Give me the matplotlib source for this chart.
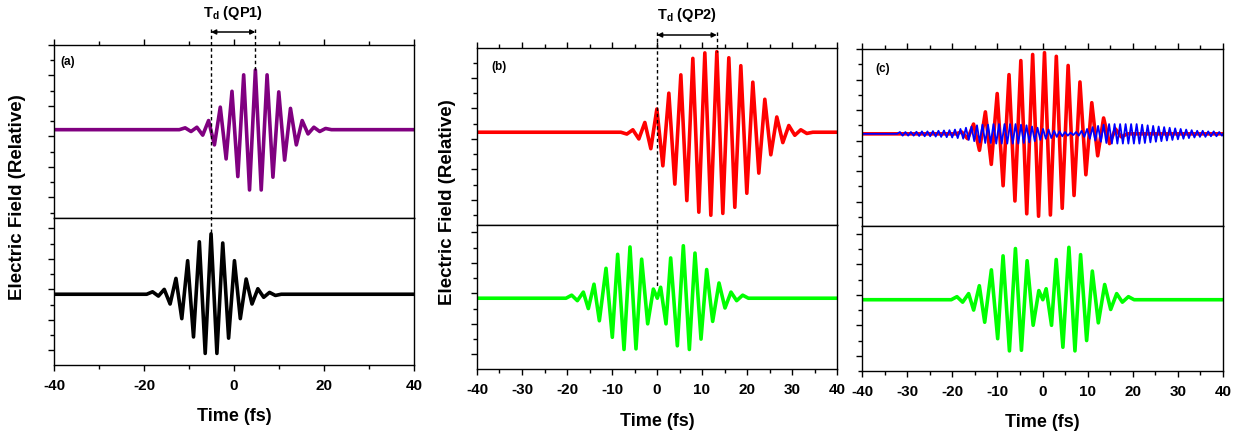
import numpy as np
import matplotlib
matplotlib.use("Agg")
from matplotlib import pyplot as plt
from matplotlib.lines import Line2D
from matplotlib.ticker import MultipleLocator
from matplotlib.transforms import blended_transform_factory

plt.rcParams['font.family'] = ['Liberation Sans', 'DejaVu Sans']
plt.rcParams['font.weight'] = 'bold'
plt.rcParams['axes.unicode_minus'] = False
plt.rcParams['mathtext.fontset'] = 'custom'
plt.rcParams['mathtext.rm'] = 'Liberation Sans:bold'
plt.rcParams['mathtext.it'] = 'Liberation Sans:bold'
plt.rcParams['mathtext.bf'] = 'Liberation Sans:bold'

t_range = (-40, 40)

# field extrema of each pulse: time of first extremum (fs), half period (fs), signed peak values
# (a) QP1 pulse (purple) and reference pulse (black)
qp1_t0, qp1_half = -10.85, 1.3
qp1_peaks = [0.03, -0.03, 0.04, -0.09, 0.15, -0.25, 0.37, -0.48, 0.63, -0.77, 0.90, -0.99, 0.98,
             -0.99, 0.90, -0.78, 0.62, -0.50, 0.35, -0.25, 0.15, -0.07, 0.04, -0.03, 0.02]
ref_t0, ref_half = -18.1, 1.3
ref_peaks = [0.04, -0.03, 0.08, -0.16, 0.26, -0.40, 0.55, -0.70, 0.86, -0.97, 0.99,
             -0.97, 0.84, -0.72, 0.55, -0.40, 0.25, -0.16, 0.09, -0.05, 0.03, -0.02]

# (b) QP2 pulse (red) and double pulse (green, also in c)
qp2_t0, qp2_half = -6.7, 1.333
qp2_peaks = [-0.03, 0.04, -0.11, 0.16, -0.27, 0.38, -0.55, 0.64, -0.85, 0.94, -1.12, 1.21, -1.31,
             1.30, -1.36, 1.32, -1.33, 1.22, -1.23, 1.09, -1.00, 0.82, -0.67, 0.54, -0.37, 0.25,
             -0.17, 0.11, -0.05, 0.04, -0.02]
dbl_times = [-18.96, -17.70, -16.37, -15.26, -14.00, -12.81, -11.33, -9.93, -8.74, -7.33, -6.00,
             -4.67, -3.41, -2.07, -0.81, 0.07, 0.81, 2.00, 3.04, 4.52, 5.85, 7.19, 8.44, 9.78,
             11.04, 12.37, 13.78, 15.11, 16.44, 17.70, 19.04]
dbl_peaks = [0.05, -0.04, 0.10, -0.17, 0.23, -0.37, 0.49, -0.64, 0.72, -0.84, 0.84, -0.83, 0.64,
             -0.42, 0.15, 0.00, 0.18, -0.42, 0.66, -0.78, 0.86, -0.84, 0.74, -0.67, 0.47, -0.38,
             0.25, -0.16, 0.10, -0.04, 0.05]

# (c) compressed pulse (red) and high-frequency residue (blue, amplitude per cycle)
cmp_t0, cmp_half = -17.9, 1.31
cmp_peaks = [0.03, -0.08, 0.16, -0.27, 0.36, -0.50, 0.66, -0.85, 0.97, -1.10, 1.20, -1.31, 1.30,
             -1.35, 1.33, -1.33, 1.27, -1.22, 1.12, -1.01, 0.85, -0.67, 0.51, -0.36, 0.26, -0.16,
             0.08, -0.05]
hf_t0, hf_period = -31.6, 1.22
hf_amp = [0.03, 0.03, 0.03, 0.035, 0.04, 0.04, 0.045, 0.05, 0.055, 0.06, 0.07, 0.08, 0.10, 0.12,
          0.14, 0.15, 0.15, 0.16, 0.16, 0.16, 0.16, 0.16, 0.15, 0.14, 0.12, 0.10, 0.08, 0.07, 0.05,
          0.04, 0.03, 0.02, 0.03, 0.05, 0.08, 0.11, 0.13, 0.15, 0.16, 0.16, 0.16, 0.16, 0.16, 0.16,
          0.15, 0.14, 0.13, 0.12, 0.11, 0.10, 0.09, 0.08, 0.07, 0.06, 0.05, 0.05, 0.04, 0.04, 0.03]


def trace(times, peaks):
    times = np.asarray(times, float)
    peaks = np.asarray(peaks, float)
    step = times[1] - times[0]
    t = np.concatenate([[t_range[0], times[0] - step], times, [times[-1] + step, t_range[1]]])
    e = np.concatenate([[0, 0], peaks, [0, 0]])
    return t, e


def uniform(t0, half, peaks):
    return trace(t0 + half * np.arange(len(peaks)), peaks)


W, H = 1238, 435
fig = plt.figure(figsize=(W / 100, H / 100), dpi=100)


def add_ax(left, top, right, bottom):
    return fig.add_axes([left / W, 1 - bottom / H, (right - left) / W, (bottom - top) / H])


def style(ax, upper, major, minor, ylim):
    ax.set_xlim(*t_range)
    ax.xaxis.set_major_locator(MultipleLocator(major))
    ax.xaxis.set_minor_locator(MultipleLocator(minor))
    off = 0.39 if upper else 0.08
    ax.set_yticks(np.arange(off - 3, 3, 0.5))
    ax.set_yticks(np.arange(off - 2.75, 3, 0.5), minor=True)
    ax.set_ylim(*ylim)
    ax.tick_params(which='both', direction='out', right=False, labelleft=False, width=1)
    ax.tick_params(which='major', length=4.5, pad=5)
    ax.tick_params(which='minor', length=2.8)
    if upper:
        ax.tick_params(axis='x', which='both', top=True, bottom=False, labelbottom=False)
    else:
        ax.tick_params(axis='x', which='both', labelsize=11)
        for lab in ax.get_xticklabels():
            lab.set_fontweight('bold')
    for sp in ax.spines.values():
        sp.set_linewidth(1.0)


a_top = add_ax(54, 46, 414, 219)
a_bot = add_ax(54, 219, 414, 366)
b_top = add_ax(477, 49, 837, 226)
b_bot = add_ax(477, 226, 837, 370)
c_top = add_ax(862, 50, 1223, 227)
c_bot = add_ax(862, 227, 1223, 372)

style(a_top, True, 20, 10, (-1.45, 1.39))
style(a_bot, False, 20, 10, (-1.16, 1.25))
style(b_top, True, 10, 5, (-1.52, 1.38))
style(b_bot, False, 10, 5, (-1.16, 1.20))
style(c_top, True, 10, 5, (-1.51, 1.39))
style(c_bot, False, 10, 5, (-1.17, 1.21))

# traces
lw = 2.6
a_top.plot(*uniform(qp1_t0, qp1_half, qp1_peaks), color='#800080', lw=lw)
a_bot.plot(*uniform(ref_t0, ref_half, ref_peaks), color='black', lw=lw)
b_top.plot(*uniform(qp2_t0, qp2_half, qp2_peaks), color='#ff0000', lw=lw)
b_bot.plot(*trace(dbl_times, dbl_peaks), color='#00ff00', lw=lw)
c_top.plot(*uniform(cmp_t0, cmp_half, cmp_peaks), color='#ff0000', lw=lw)
hf_t = hf_t0 + hf_period / 2 * np.arange(2 * len(hf_amp))
hf_e = np.repeat(hf_amp, 2) * np.tile([1, -1], len(hf_amp))
c_top.plot(*trace(hf_t, hf_e), color='#0000ff', lw=1.3)
c_bot.plot(*trace(dbl_times, dbl_peaks), color='#00ff00', lw=lw)

# panel tags
for ax, tag, x, y in [(a_top, '(a)', 0.019, 0.907), (b_top, '(b)', 0.039, 0.898),
                      (c_top, '(c)', 0.038, 0.895)]:
    ax.text(x, y, tag, transform=ax.transAxes, fontsize=8.5, weight='bold', va='center')

# axis titles
for x, y in [(18, 197), (447, 202)]:
    fig.text(x / W, 1 - y / H, 'Electric Field (Relative)', rotation=90, ha='center',
             va='center', fontsize=13.5, weight='bold')
for ax, y in [(a_bot, 417), (b_bot, 422), (c_bot, 423)]:
    ax.text(0.5, 1 - y / H, 'Time (fs)', transform=blended_transform_factory(ax.transAxes, fig.transFigure),
            ha='center', va='center', fontsize=13, weight='bold')


def peak_of(t0, half, peaks):
    i = int(np.argmax(peaks))
    return t0 + half * i, peaks[i]


def fig_xy(ax, t, v):
    return fig.transFigure.inverted().transform(ax.transData.transform((t, v)))


def delay_marker(ax_top, t1, ax1, v1, t2, ax2, v2, label, y_arrow, y_text):
    ya = 1 - y_arrow / H
    ax_top.annotate('', xy=(t2, ya), xytext=(t1, ya), xycoords=('data', 'figure fraction'),
                    textcoords=('data', 'figure fraction'), annotation_clip=False,
                    arrowprops=dict(arrowstyle='<|-|>', lw=1.1, color='black', shrinkA=0,
                                    shrinkB=0, mutation_scale=7))
    ax_top.text((t1 + t2) / 2, 1 - y_text / H, label, ha='center', va='center', fontsize=10.5,
                weight='bold', transform=blended_transform_factory(ax_top.transData, fig.transFigure))
    # dashed guides from the arrow down to the pulse maxima
    for t, ax, v in [(t1, ax1, v1), (t2, ax2, v2)]:
        xf, yf = fig_xy(ax, t, v)
        fig.add_artist(Line2D([xf, xf], [ya + 3 / H, yf], transform=fig.transFigure,
                              color='black', lw=1.0, ls=(0, (2.5, 2))))


t_ref, v_ref = peak_of(ref_t0, ref_half, ref_peaks)
t_qp1, v_qp1 = peak_of(qp1_t0, qp1_half, qp1_peaks)
delay_marker(a_top, t_ref, a_bot, v_ref, t_qp1, a_top, v_qp1, r'T$_{\mathrm{d}}$ (QP1)', 33, 13)

t_qp2, v_qp2 = peak_of(qp2_t0, qp2_half, qp2_peaks)
i0 = int(np.argmin(np.abs(np.asarray(dbl_times))))
centre = max(dbl_peaks[i0 - 1:i0 + 2])
delay_marker(b_top, 0.0, b_bot, centre, t_qp2, b_top, v_qp2, r'T$_{\mathrm{d}}$ (QP2)', 36, 15)

fig.savefig('out.png', dpi=100)
